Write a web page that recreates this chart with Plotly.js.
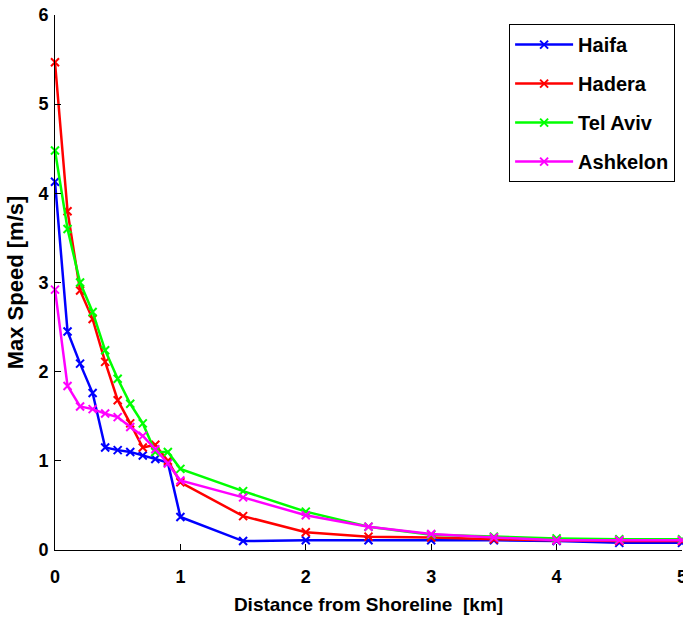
<!DOCTYPE html>
<html>
<head>
<meta charset="utf-8">
<script src="https://cdn.plot.ly/plotly-3.0.1.min.js"></script>
<style>html,body{margin:0;padding:0;background:#fff;}#chart{width:683px;height:620px;}</style>
</head>
<body>
<div id="chart"></div>
<script>
const distance = [0, 0.1, 0.2, 0.3, 0.4, 0.5, 0.6, 0.7, 0.8, 0.9, 1, 1.5, 2, 2.5, 3, 3.5, 4, 4.5, 5];
const haifa    = [4.13, 2.45, 2.09, 1.76, 1.15, 1.12, 1.10, 1.06, 1.02, 0.98, 0.37, 0.10, 0.11, 0.11, 0.11, 0.11, 0.10, 0.08, 0.08];
const hadera   = [5.47, 3.80, 2.91, 2.59, 2.11, 1.68, 1.42, 1.15, 1.18, 1.00, 0.76, 0.38, 0.20, 0.15, 0.14, 0.12, 0.11, 0.10, 0.10];
const telAviv  = [4.48, 3.60, 3.00, 2.67, 2.24, 1.92, 1.64, 1.42, 1.10, 1.10, 0.91, 0.66, 0.43, 0.26, 0.17, 0.15, 0.13, 0.12, 0.12];
const ashkelon = [2.92, 1.84, 1.61, 1.58, 1.53, 1.49, 1.38, 1.28, 1.13, 0.97, 0.78, 0.59, 0.39, 0.26, 0.18, 0.14, 0.11, 0.11, 0.11];
const names = ['Haifa', 'Hadera', 'Tel Aviv', 'Ashkelon'];
const series = [haifa, hadera, telAviv, ashkelon];
const colors = ['#0000ff', '#ff0000', '#00ff00', '#ff00ff'];
const xTicks = [0, 1, 2, 3, 4, 5];
const yTicks = [0, 1, 2, 3, 4, 5, 6];

const traces = series.map((s, i) => ({
  x: distance, y: s, name: names[i], type: 'scatter', mode: 'lines+markers',
  legendgroup: 'g' + i,
  cliponaxis: false,
  line: {color: colors[i], width: 2.5},
  marker: {symbol: 'x-thin', size: 8, color: colors[i], line: {color: colors[i], width: 2}}
}));

const fam = 'Liberation Sans, Arial, sans-serif';
const layout = {
  width: 683, height: 620,
  margin: {l: 55, r: 1, t: 15, b: 70},
  paper_bgcolor: '#fff', plot_bgcolor: '#fff',
  font: {family: fam, size: 18, color: '#000', weight: 'bold'},
  showlegend: true,
  legend: {
    x: 0.989, y: 0.983, xanchor: 'right', yanchor: 'top',
    bordercolor: '#000', borderwidth: 1, bgcolor: '#fff',
    font: {family: fam, size: 20, color: '#000', weight: 'bold'},
    tracegroupgap: 10, traceorder: 'grouped',
    itemwidth: 58
  },
  xaxis: {
    range: [0, 5], tickvals: xTicks, ticktext: xTicks.map(String),
    showgrid: false, zeroline: false, showline: true, linecolor: '#000', linewidth: 1,
    ticks: 'inside', ticklen: 6, tickcolor: '#000',
    ticklabeloverflow: 'allow', ticklabelstandoff: 10,
    tickfont: {family: fam, size: 18, color: '#000', weight: 'bold'},
    title: {text: 'Distance from Shoreline\u00a0 [km]', font: {family: fam, size: 19, color: '#000', weight: 'bold'}, standoff: 12}
  },
  yaxis: {
    range: [0, 6], tickvals: yTicks, ticktext: yTicks.map(String),
    showgrid: false, zeroline: false, showline: true, linecolor: '#000', linewidth: 1,
    ticks: 'inside', ticklen: 6, tickcolor: '#000',
    ticklabelstandoff: 2,
    tickfont: {family: fam, size: 18, color: '#000', weight: 'bold'},
    title: {text: 'Max Speed [m/s]', font: {family: fam, size: 22, color: '#000', weight: 'bold'}, standoff: 8}
  }
};
Plotly.newPlot('chart', traces, layout, {displayModeBar: false, staticPlot: true});
</script>
</body>
</html>
